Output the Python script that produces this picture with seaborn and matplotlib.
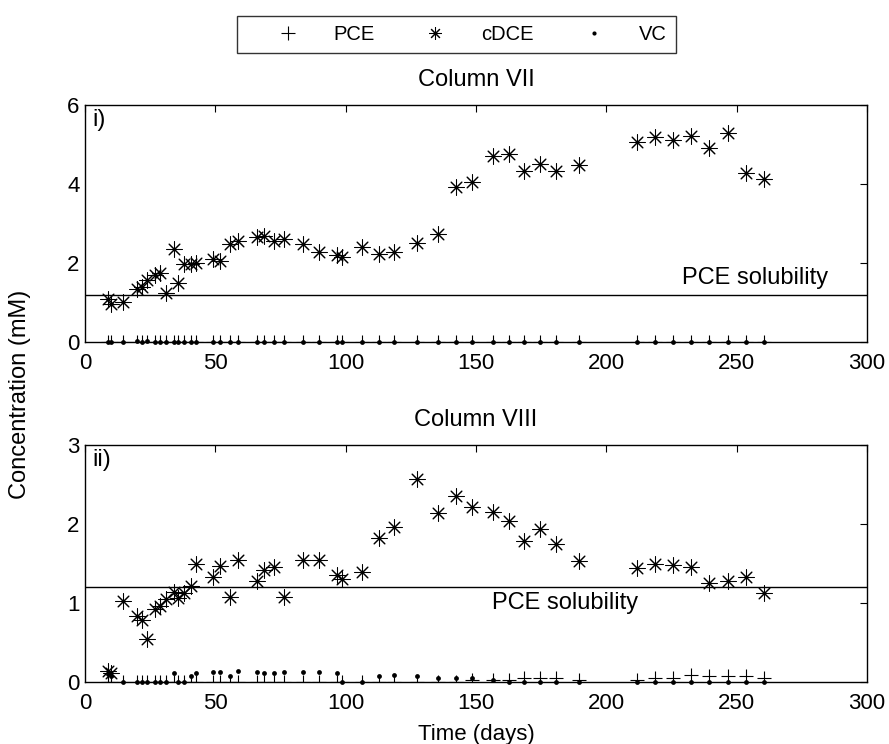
import matplotlib
matplotlib.use("Agg")
import matplotlib.pyplot as plt
from matplotlib.lines import Line2D
import pandas as pd
import seaborn as sns

# sampling days (shared by both columns)
days = [9, 10, 14.5, 20, 21.7, 23.6, 27, 28.8, 31, 34, 35.7, 37.8, 40.7, 42.6,
        49, 51.8, 55.6, 58.8, 66, 68.8, 72.6, 76.5, 83.7, 89.6, 96.5, 98.7,
        106.4, 112.9, 118.5, 127.4, 135.4, 142.5, 148.5, 156.6, 162.6, 168.5,
        174.5, 180.7, 189.5, 211.7, 218.6, 225.4, 232.4, 239.5, 246.5, 253.4, 260.4]

# Column VII (mM)
cdce_vii = [1.10, 0.97, 1.02, 1.35, 1.40, 1.57, 1.69, 1.75, 1.25, 2.35,
            1.50, 1.97, 1.97, 2.00, 2.10, 2.06, 2.48, 2.56, 2.65, 2.69,
            2.56, 2.61, 2.48, 2.28, 2.20, 2.15, 2.41, 2.23, 2.29, 2.51,
            2.73, 3.92, 4.04, 4.72, 4.76, 4.34, 4.51, 4.34, 4.47, 5.06,
            5.18, 5.12, 5.22, 4.92, 5.29, 4.27, 4.12]
pce_vii = [0.00, 0.00, 0.00, 0.00, 0.00, 0.00, 0.00, 0.00, 0.00, 0.00,
           0.00, 0.00, 0.00, 0.00, 0.00, 0.00, 0.00, 0.00, 0.00, 0.00,
           0.00, 0.00, 0.00, 0.00, 0.00, 0.00, 0.00, 0.00, 0.00, 0.00,
           0.00, 0.00, 0.00, 0.00, 0.00, 0.00, 0.00, 0.00, 0.00, 0.00,
           0.00, 0.00, 0.00, 0.00, 0.00, 0.00, 0.00]
vc_vii = [0.00, 0.00, 0.00, 0.02, 0.00, 0.02, 0.00, 0.00, 0.00, 0.00,
          0.00, 0.00, 0.00, 0.00, 0.00, 0.00, 0.00, 0.00, 0.00, 0.00,
          0.00, 0.00, 0.00, 0.00, 0.00, 0.00, 0.00, 0.00, 0.00, 0.00,
          0.00, 0.00, 0.00, 0.00, 0.00, 0.00, 0.00, 0.00, 0.00, 0.00,
          0.00, 0.00, 0.00, 0.00, 0.00, 0.00, 0.00]

# Column VIII (mM)
cdce_viii = [0.14, 0.12, 1.02, 0.84, 0.79, 0.54, 0.93, 0.96, 1.05, 1.14,
             1.06, 1.13, 1.21, 1.49, 1.33, 1.47, 1.07, 1.54, 1.28, 1.42,
             1.46, 1.08, 1.54, 1.54, 1.35, 1.31, 1.39, 1.82, 1.96, 2.57,
             2.14, 2.35, 2.22, 2.15, 2.04, 1.79, 1.94, 1.75, 1.53, 1.44,
             1.50, 1.48, 1.46, 1.25, 1.28, 1.33, 1.13]
pce_viii = [0.00, 0.00, 0.00, 0.00, 0.00, 0.00, 0.00, 0.00, 0.00, 0.00,
            0.00, 0.00, 0.00, 0.00, 0.00, 0.00, 0.00, 0.00, 0.00, 0.00,
            0.00, 0.00, 0.00, 0.00, 0.00, 0.00, 0.00, 0.00, 0.00, 0.00,
            0.00, 0.00, 0.03, 0.03, 0.03, 0.05, 0.05, 0.05, 0.03, 0.03,
            0.05, 0.05, 0.09, 0.07, 0.07, 0.08, 0.05]
vc_viii = [0.10, 0.08, 0.00, 0.00, 0.00, 0.00, 0.00, 0.00, 0.00, 0.11,
           0.00, 0.00, 0.08, 0.11, 0.13, 0.13, 0.08, 0.14, 0.13, 0.11,
           0.11, 0.13, 0.13, 0.13, 0.11, 0.00, 0.00, 0.07, 0.09, 0.07,
           0.05, 0.05, 0.05, 0.03, 0.00, 0.00, 0.00, 0.00, 0.00, 0.00,
           0.00, 0.00, 0.00, 0.00, 0.00, 0.00, 0.00]

pce_solubility = 1.2

sns.set_theme(style="white")
plt.rcParams["font.family"] = ["Liberation Sans", "DejaVu Sans"]
plt.rcParams.update({
    "text.color": "black",
    "axes.labelcolor": "black",
    "xtick.color": "black",
    "ytick.color": "black",
})

ASTERISK = (8, 2, 0)
MARKERS = {
    "PCE": dict(marker="+", s=100, linewidth=0.8, clip_on=True),
    "cDCE": dict(marker=ASTERISK, s=120, linewidth=0.75, clip_on=False),
    "VC": dict(marker="o", s=12, linewidth=0, clip_on=False),
}


def draw_panel(ax, pce, cdce, vc, ymax, yticks, title, tag, label_xy):
    df = pd.DataFrame({"day": days, "PCE": pce, "cDCE": cdce, "VC": vc})
    for name in ["PCE", "cDCE", "VC"]:
        sns.scatterplot(data=df, x="day", y=name, color="black", ax=ax,
                        legend=False, zorder=3, **MARKERS[name])
    ax.axhline(pce_solubility, color="black", linewidth=1.0, zorder=2)
    ax.text(label_xy[0], label_xy[1], "PCE solubility", ha="left", va="center", fontsize=17)
    ax.text(0.01, 0.985, tag, transform=ax.transAxes, ha="left", va="top", fontsize=17)
    ax.set_xlim(0, 300)
    ax.set_ylim(0, ymax)
    ax.set_xticks([0, 50, 100, 150, 200, 250, 300])
    ax.set_yticks(yticks)
    ax.set_xlabel("")
    ax.set_ylabel("")
    ax.set_title(title, fontsize=17, pad=14)
    ax.tick_params(direction="in", length=5, width=0.8, top=True, right=True,
                   labelsize=16, color="black")
    ax.tick_params(axis="x", pad=8)
    ax.tick_params(axis="y", pad=4)
    for sp in ax.spines.values():
        sp.set_color("black")
        sp.set_linewidth(1.0)


fig = plt.figure(figsize=(8.89, 7.44), dpi=100)
ax1 = fig.add_axes([0.0956, 0.5403, 0.8797, 0.3186])
ax2 = fig.add_axes([0.0956, 0.0833, 0.8797, 0.3186])

draw_panel(ax1, pce_vii, cdce_vii, vc_vii, 6, [0, 2, 4, 6], "Column VII", "i)", (229, 1.62))
draw_panel(ax2, pce_viii, cdce_viii, vc_viii, 3, [0, 1, 2, 3], "Column VIII", "ii)", (156, 1.0))

ax2.set_xlabel("Time (days)", fontsize=16, labelpad=7)
fig.text(0.0225, 0.4704, "Concentration (mM)", rotation=90, ha="center", va="center", fontsize=17)

handles = [
    Line2D([], [], color="black", linestyle="", marker="+", markersize=9.5, markeredgewidth=0.8),
    Line2D([], [], color="black", linestyle="", marker=ASTERISK, markersize=9, markeredgewidth=0.75),
    Line2D([], [], color="black", linestyle="", marker="o", markersize=3, markeredgewidth=0),
]
leg = fig.legend(handles, ["PCE", "cDCE", "VC"], loc="center", bbox_to_anchor=(0.5135, 0.954),
                 ncol=3, frameon=True, fancybox=False, fontsize=14.5, handlelength=4.2,
                 handletextpad=0.15, columnspacing=0.9, borderpad=0.45, numpoints=1)
leg.get_frame().set_edgecolor("black")
leg.get_frame().set_linewidth(1.0)

fig.savefig("out.png", dpi=100)
